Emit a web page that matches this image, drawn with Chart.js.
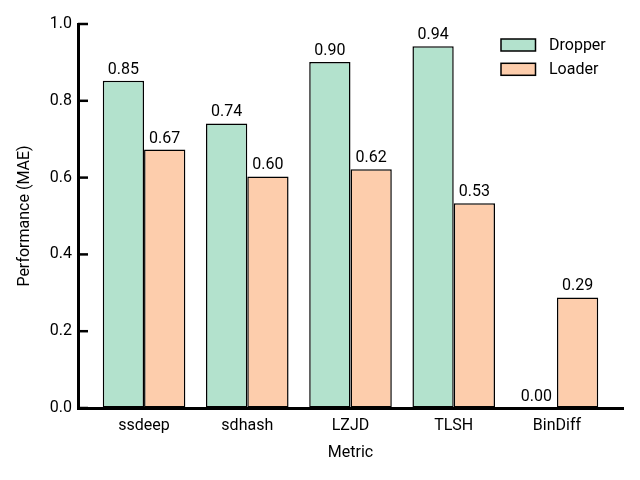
<!DOCTYPE html>
<html>
<head>
<meta charset="utf-8">
<script src="https://cdn.jsdelivr.net/npm/chart.js@4"></script>
<style>
	html, body { margin: 0; padding: 0; background: #fff; }
	canvas { display: block; }
</style>
</head>
<body>
<canvas id="chart" width="640" height="480"></canvas>
<script>
const metrics = ['ssdeep', 'sdhash', 'LZJD', 'TLSH', 'BinDiff'];
const dropper = [0.852, 0.741, 0.901, 0.942, 0.0];
const loader = [0.673, 0.603, 0.622, 0.533, 0.288];
const yTicks = [0.0, 0.2, 0.4, 0.6, 0.8, 1.0];

Chart.defaults.font.family = 'Roboto';
Chart.defaults.font.size = 16;
Chart.defaults.color = '#000';

const toPoints = values => values.map((v, i) => ({x: i, y: v}));

// value labels above each bar
const barLabels = {
	id: 'barLabels',
	afterDatasetsDraw: chart => {
		const ctx = chart.ctx;
		ctx.save();
		ctx.font = '16px Roboto';
		ctx.fillStyle = '#000';
		ctx.textAlign = 'center';
		ctx.textBaseline = 'alphabetic';
		chart.data.datasets.forEach((ds, di) => {
			chart.getDatasetMeta(di).data.forEach((bar, i) => {
				ctx.fillText(ds.data[i].y.toFixed(2), bar.x, bar.y - 7);
			});
		});
		ctx.restore();
	}
};

// inward y ticks and legend inside the plot
const decorations = {
	id: 'decorations',
	afterDraw: chart => {
		const ctx = chart.ctx;
		const area = chart.chartArea;
		const y = chart.scales.y;
		ctx.save();
		ctx.strokeStyle = '#000';
		ctx.lineWidth = 2.5;
		for (const t of y.ticks) {
			const py = y.getPixelForValue(t.value);
			ctx.beginPath();
			ctx.moveTo(area.left, py);
			ctx.lineTo(area.left + 10, py);
			ctx.stroke();
		}

		ctx.font = '16px Roboto';
		ctx.textAlign = 'left';
		ctx.textBaseline = 'middle';
		ctx.lineWidth = 1.5;
		chart.data.datasets.forEach((ds, i) => {
			const top = 39 + i * 24.3;
			ctx.fillStyle = ds.backgroundColor;
			ctx.fillRect(501, top, 34.5, 12);
			ctx.strokeRect(501, top, 34.5, 12);
			ctx.fillStyle = '#000';
			ctx.fillText(ds.label, 549, top + 6.5);
		});
		ctx.restore();
	}
};

new Chart(document.getElementById('chart'), {
	type: 'bar',
	data: {
		datasets: [
			{
				label: 'Dropper',
				data: toPoints(dropper),
				backgroundColor: '#b3e2cd',
				borderColor: '#000',
				borderWidth: 1.5,
				borderSkipped: false,
			},
			{
				label: 'Loader',
				data: toPoints(loader),
				backgroundColor: '#fdcdac',
				borderColor: '#000',
				borderWidth: 1.5,
				borderSkipped: false,
			},
		],
	},
	plugins: [barLabels, decorations],
	options: {
		responsive: false,
		animation: false,
		devicePixelRatio: 1,
		categoryPercentage: 0.8,
		barPercentage: 1.0,
		layout: {
			padding: {left: 0, right: 17, top: 24, bottom: 0},
		},
		plugins: {
			legend: {display: false},
			tooltip: {enabled: false},
		},
		scales: {
			x: {
				type: 'linear',
				min: -0.64,
				max: 4.64,
				offset: false,
				z: 1,
				grid: {display: true, offset: false, drawOnChartArea: false, drawTicks: false},
				border: {color: '#000', width: 3},
				afterBuildTicks: scale => {
					scale.ticks = metrics.map((_, i) => ({value: i}));
				},
				afterFit: scale => {
					scale.height = 72;
				},
				ticks: {
					autoSkip: false,
					maxRotation: 0,
					padding: 8,
					callback: value => metrics[value],
				},
				title: {
					display: true,
					text: 'Metric',
					padding: {top: 0, bottom: 17},
				},
			},
			y: {
				min: 0,
				max: 1,
				z: 1,
				grid: {display: true, drawOnChartArea: false, drawTicks: false},
				border: {color: '#000', width: 3},
				afterBuildTicks: scale => {
					scale.ticks = yTicks.map(v => ({value: v}));
				},
				afterFit: scale => {
					scale.width = 78;
				},
				ticks: {
					padding: 6,
					callback: value => value.toFixed(1),
				},
				title: {
					display: true,
					text: 'Performance (MAE)',
					padding: {top: 15, bottom: 0},
				},
			},
		},
	},
});
</script>
</body>
</html>
